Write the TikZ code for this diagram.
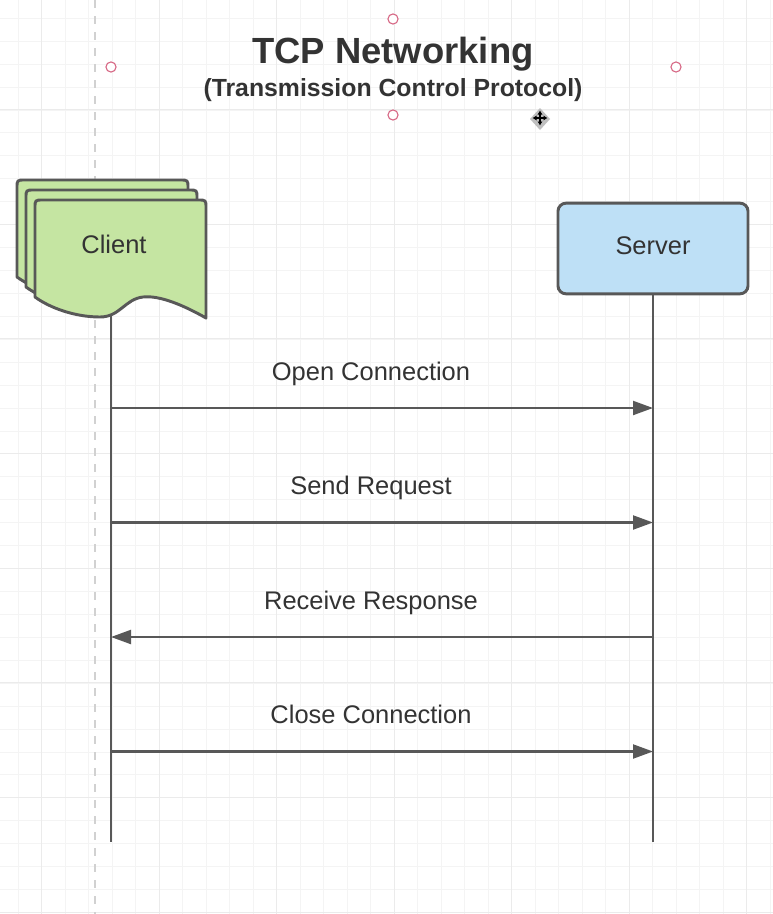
\documentclass[tikz,border=0pt]{standalone}
\usepackage{fontspec}
\setmainfont{Liberation Sans}
\usetikzlibrary{arrows.meta}

\definecolor{clientgreen}{RGB}{197,229,162}
\definecolor{serverblue}{RGB}{190,224,246}
\definecolor{edge}{RGB}{88,88,88}
\definecolor{ink}{RGB}{51,51,51}
\definecolor{handle}{RGB}{214,100,130}
\definecolor{gridminor}{RGB}{244,244,244}
\definecolor{gridmajor}{RGB}{235,235,235}

\tikzset{
  docpage/.style={fill=clientgreen, draw=edge, line width=2.2pt, line join=round},
  serverbox/.style={rectangle, rounded corners=6pt, fill=serverblue, draw=edge, line width=2.2pt,
    minimum width=142.5pt, minimum height=68pt, text depth=4.5pt, text=ink, font=\fontsize{19.1}{22}\selectfont},
  lifeline/.style={draw=edge, line width=1.6pt},
  msg/.style={draw=edge, line width=1.6pt, -{Triangle[length=15pt,width=10.5pt]}},
  msglabel/.style={anchor=base, text=ink, font=\fontsize{19.1}{22}\selectfont},
  selhandle/.style={draw=handle, fill=white, line width=0.8pt},
}

\begin{document}
\begin{tikzpicture}[x=0.75pt, y=-0.75pt]
  \useasboundingbox[fill=white] (0,0) rectangle (773,914);

  % Rejilla de fondo
  \foreach \k in {0,...,32}
    \draw[gridminor, line width=0.6pt] ({18.2+23.5*\k},0) -- ++(0,914);
  \foreach \k in {0,...,39}
    \draw[gridminor, line width=0.6pt] (0,{18.2+22.93*\k}) -- ++(773,0);
  \foreach \k in {0,...,6}
    \draw[gridmajor, line width=0.7pt] ({41.7+117.5*\k},0) -- ++(0,914);
  \foreach \k in {0,...,7}
    \draw[gridmajor, line width=0.7pt] (0,{109.5+114.65*\k}) -- ++(773,0);

  % Guia discontinua
  \draw[black!18, line width=1.5pt, dash pattern=on 6pt off 6pt] (95,0) -- (95,914);

  % Titulo
  \node[anchor=base, text=ink, font=\bfseries\fontsize{27.3}{30}\selectfont] (title) at (393,63) {TCP Networking};
  \node[anchor=base, text=ink, font=\bfseries\fontsize{18.6}{22}\selectfont] (subtitle) at (393,96.5) {(Transmission Control Protocol)};

  % Marcas de seleccion
  \draw[selhandle] (393,19) circle [radius=3.8pt];
  \draw[selhandle] (111,67) circle [radius=3.8pt];
  \draw[selhandle] (676,67) circle [radius=3.8pt];
  \draw[selhandle] (393,115) circle [radius=3.8pt];

  % Cursor de mover
  \fill[black!25] (540,108) -- (550,119) -- (540,130) -- (530,119) -- cycle;
  \draw[black, line width=1pt, {Latex[length=3pt,width=4pt]}-{Latex[length=3pt,width=4pt]}] (532.5,118) -- (547.5,118);
  \draw[black, line width=1pt, {Latex[length=3pt,width=4pt]}-{Latex[length=3pt,width=4pt]}] (540,110.5) -- (540,125.5);

  % Cliente (pila de documentos)
  \foreach \o in {0,1,2}
    \draw[docpage, shift={(17+9*\o,180+10*\o)}]
      (0,97) -- (0,8) .. controls (0,0) .. (8,0) -- (163,0) .. controls (171,0) .. (171,8)
      -- (171,118) .. controls (150,106) and (125,95) .. (108,97)
      .. controls (90,99) and (85,117) .. (65,117)
      .. controls (40,117) and (15,108) .. (0,97) -- cycle;
  \node[msglabel] (client) at (114,253.5) {Client};

  % Servidor
  \node[serverbox] (server) at (653,248.5) {Server};

  % Lineas de vida
  \coordinate (client-foot) at (111,315);
  \coordinate (client-end) at (111,842);
  \coordinate (server-end) at (653,842);
  \draw[lifeline] (client-foot) -- (client-end);
  \draw[lifeline] (server.south) -- (server-end);

  % Mensajes
  \coordinate (c-open) at (111,408);    \coordinate (s-open) at (653,408);
  \coordinate (c-send) at (111,522.5);  \coordinate (s-send) at (653,522.5);
  \coordinate (c-recv) at (111,637);    \coordinate (s-recv) at (653,637);
  \coordinate (c-close) at (111,751.5); \coordinate (s-close) at (653,751.5);

  \draw[msg] (c-open) -- (s-open);
  \node[msglabel] (lbl-open) at (371,380) {Open Connection};
  \draw[msg] (c-send) -- (s-send);
  \node[msglabel] (lbl-send) at (371,494.5) {Send Request};
  \draw[msg] (s-recv) -- (c-recv);
  \node[msglabel] (lbl-recv) at (371,609) {Receive Response};
  \draw[msg] (c-close) -- (s-close);
  \node[msglabel] (lbl-close) at (371,723.5) {Close Connection};
\end{tikzpicture}
\end{document}
